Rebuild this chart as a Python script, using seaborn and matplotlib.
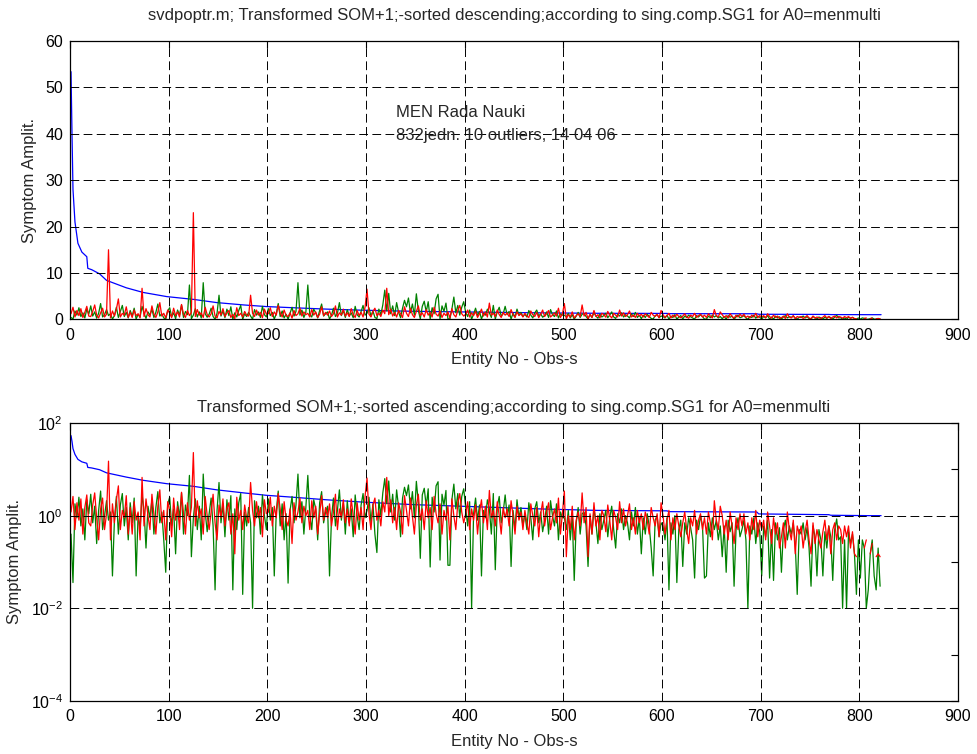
import numpy as np
import pandas as pd
import matplotlib
matplotlib.use("Agg")
import matplotlib.pyplot as plt
import matplotlib.ticker as mticker
import seaborn as sns

nan = np.nan

# Sorted singular-component amplitude (blue), given at its break points
blue_x = [1, 2, 3, 5, 8, 12, 17, 18, 22, 30, 37, 57, 74, 98, 125, 149, 176,
          199, 226, 260, 294, 320, 348, 399, 480, 534, 605, 607, 696, 698,
          769, 771, 811, 822]
blue_y = [53.4, 40.0, 28.0, 21.0, 16.4, 14.5, 13.5, 11.0, 10.7, 9.8, 8.4, 6.8,
          5.8, 4.9, 4.3, 3.6, 3.1, 2.75, 2.5, 2.2, 1.98, 1.85, 1.73, 1.59,
          1.39, 1.30, 1.27, 1.22, 1.20, 1.09, 1.05, 1.02, 1.00, 1.00]

# Entity numbers for the two symptom series (every second entity)
entity = list(range(1, 822, 2))

green_vals = [
    0.4, 0.036, 1.8, 0.9, 2.5, 0.6, 1.4, 0.3, 2.2, 1.1,
    2.9, 0.7, 1.6, 0.25, 1.3, 3.4, 0.5, 1.0, 2.1, 0.8,
    1.2, 0.05, 0.8, 2.6, 0.4, 1.7, 3.0, 0.6, 1.5, 0.3,
    1.9, 0.7, 2.4, 0.05, 1.1, 0.5, 2.8, 1.3, 0.2, 1.6,
    0.9, 2.2, 0.4, 1.5, 3.3, 0.7, 1.2, 0.3, 0.06, 1.8,
    2.5, 0.6, 1.4, 0.15, 2.0, 0.9, 3.1, 0.4, 1.7, 1.0,
    7.4, 0.13, 0.9, 2.3, 0.5, 1.6, 0.3, 7.9, 1.2, 0.45,
    1.1, 2.4, 0.6, 0.025, 1.3, 5.2, 0.7, 1.8, 0.35, 2.2,
    0.8, 2.7, 0.025, 1.4, 0.5, 1.9, 3.0, 0.02, 1.2, 0.6,
    1.5, 0.7, 0.01, 2.1, 0.9, 1.6, 0.4, 2.8, 1.0, 0.5,
    2.3, 0.8, 1.5, 0.05, 1.2, 3.4, 0.6, 1.8, 0.3, 1.1,
    0.035, 1.3, 2.6, 0.7, 1.7, 7.9, 0.9, 2.0, 0.4, 1.5,
    7.4, 1.0, 0.5, 2.2, 1.4, 0.3, 1.9, 3.3, 0.7, 1.2,
    1.6, 0.05, 0.9, 2.4, 0.6, 1.3, 3.6, 0.8, 1.9, 0.4,
    2.1, 0.7, 1.4, 0.35, 2.8, 1.0, 0.5, 1.7, 3.0, 0.9,
    1.3, 2.5, 0.7, 1.8, 0.4, 0.16, 2.2, 1.0, 3.1, 6.3,
    1.8, 5.6, 1.2, 2.9, 0.8, 3.6, 1.5, 0.35, 2.4, 4.1,
    2.7, 4.6, 1.4, 3.3, 0.9, 5.5, 1.9, 0.12, 2.8, 3.9,
    1.6, 3.8, 0.078, 2.5, 1.2, 4.4, 5.4, 0.11, 2.9, 1.7,
    3.5, 0.085, 0.085, 2.2, 4.8, 1.4, 3.0, 0.9, 2.6, 3.8,
    1.5, 0.6, 2.0, 0.01, 1.1, 2.4, 0.8, 1.7, 0.05, 1.3,
    0.9, 2.2, 1.4, 0.4, 3.0, 0.068, 1.6, 2.6, 0.7, 1.2,
    2.8, 1.0, 1.7, 0.08, 1.3, 0.5, 2.2, 0.9, 1.5, 0.6,
    1.1, 0.5, 1.9, 0.9, 0.3, 1.4, 2.0, 0.7, 1.2, 0.45,
    0.8, 1.6, 0.4, 2.1, 1.0, 0.6, 1.8, 0.3, 1.2, 0.9,
    0.9, 0.5, 1.3, 0.3, 1.0, 0.04, 0.7, 1.5, 0.4, 1.1,
    1.2, 0.6, 0.08, 1.0, 0.4, 1.4, 0.7, 0.25, 1.1, 0.5,
    0.8, 1.3, 0.35, 0.9, 1.6, 0.5, 0.2, 1.1, 0.7, 1.4,
    0.5, 1.0, 0.7, 0.3, 1.2, 0.6, 1.5, 0.4, 0.9, 0.15,
    0.9, 0.4, 1.1, 0.6, 0.2, 0.05, 0.8, 1.0, 0.35, 0.7,
    0.6, 0.3, 0.9, 0.025, 0.7, 0.4, 1.0, 0.036, 0.5, 0.8,
    0.08, 0.7, 0.4, 0.9, 0.55, 0.3, 0.045, 0.8, 0.5, 1.0,
    0.6, 0.045, 0.05, 0.7, 0.35, 0.9, 0.5, 0.8, 0.3, 0.6,
    0.13, 0.6, 0.06, 0.8, 0.45, 0.7, 0.03, 0.5, 0.9, 0.35,
    0.5, 0.8, 0.3, 0.01, 0.6, 0.4, 0.9, 0.25, 0.7, 0.45,
    0.05, 0.6, 0.35, 0.8, 0.045, 0.5, 0.04, 0.7, 0.3, 0.55,
    0.06, 0.5, 0.8, 0.3, 0.6, 0.4, 0.7, 0.25, 0.02, 0.5,
    0.4, 0.7, 0.3, 0.55, 0.2, 0.03, 0.6, 0.35, 0.05, 0.5,
    0.3, 0.05, 0.45, 0.2, 0.6, 0.35, 0.04, 0.5, 0.85, 0.3,
    0.35, 0.01, 0.3, 0.01, 0.45, 0.25, 0.4, 0.15, 0.02, 0.3,
    0.045, 0.3, 0.2, 0.01, 0.025, 0.15, 0.3, 0.05, 0.025, 0.2,
    0.03]

red_vals = [
    1.2, 2.6, 0.5, 1.9, 0.8, 2.3, 0.4, 1.5, 2.8, 0.7,
    0.6, 1.7, 3.1, 0.9, 0.3, 1.4, 2.4, 0.5, 1.1, 15.0,
    0.3, 1.8, 0.7, 2.2, 4.4, 0.5, 1.3, 0.9, 2.7, 0.4,
    1.5, 0.4, 2.0, 0.8, 1.2, 0.3, 6.7, 0.6, 2.3, 1.0,
    0.5, 2.9, 1.1, 0.4, 1.6, 3.6, 0.7, 1.3, 0.3, 2.0,
    1.3, 0.35, 2.4, 0.8, 1.6, 0.5, 3.2, 1.1, 0.4, 1.9,
    0.8, 1.5, 23.0, 0.6, 2.1, 0.9, 1.4, 0.4, 2.6, 1.0,
    0.5, 1.2, 2.9, 0.7, 0.3, 1.7, 0.9, 2.3, 0.6, 1.4,
    1.9, 0.4, 1.1, 0.15, 2.5, 0.8, 1.3, 0.5, 1.7, 0.9,
    0.7, 5.2, 1.3, 0.6, 2.0, 0.9, 1.5, 0.35, 2.2, 1.1,
    1.2, 2.5, 0.6, 1.6, 0.9, 3.0, 1.4, 0.5, 2.0, 0.8,
    0.6, 1.4, 0.25, 1.9, 0.8, 1.2, 2.4, 0.7, 1.6, 1.0,
    1.3, 0.5, 2.1, 0.9, 1.6, 0.4, 1.1, 2.7, 0.8, 1.5,
    0.9, 1.8, 0.6, 1.2, 2.9, 0.5, 1.4, 0.9, 2.2, 0.7,
    1.4, 0.6, 2.3, 1.0, 0.4, 1.9, 0.8, 1.5, 0.5, 2.6,
    6.5, 1.1, 0.5, 1.7, 2.4, 0.8, 1.3, 0.6, 2.0, 1.2,
    6.7, 1.0, 2.2, 0.7, 1.5, 0.5, 1.9, 1.2, 0.4, 2.7,
    1.3, 0.6, 2.4, 1.0, 0.4, 1.7, 2.9, 0.8, 1.4, 0.5,
    2.1, 0.9, 1.5, 0.5, 2.6, 1.1, 0.7, 1.8, 0.4, 1.3,
    0.8, 1.6, 0.3, 2.3, 1.0, 0.5, 1.9, 3.0, 1.2, 0.7,
    1.1, 2.0, 0.5, 1.4, 0.8, 1.7, 0.4, 1.2, 2.2, 0.7,
    1.6, 0.5, 3.5, 0.9, 1.3, 0.6, 2.0, 1.0, 0.4, 1.5,
    0.9, 1.4, 0.6, 2.1, 1.0, 0.4, 1.6, 0.8, 1.2, 0.5,
    1.3, 0.7, 0.4, 1.8, 1.0, 0.6, 1.5, 0.35, 1.1, 2.0,
    0.6, 1.2, 1.9, 0.5, 0.9, 1.4, 0.7, 2.4, 0.4, 1.1,
    3.4, 0.13, 1.0, 0.5, 1.6, 0.3, 0.8, 1.2, 0.6, 3.1,
    0.7, 1.5, 0.13, 1.1, 0.4, 1.9, 0.6, 1.0, 0.3, 1.3,
    1.0, 0.45, 1.7, 0.8, 0.3, 1.3, 0.9, 0.5, 2.0, 0.7,
    1.4, 0.6, 1.0, 1.8, 0.5, 0.9, 0.4, 1.3, 0.7, 1.1,
    0.5, 1.2, 0.8, 0.4, 1.5, 0.9, 0.6, 1.1, 0.35, 1.9,
    1.0, 0.4, 0.8, 1.3, 0.3, 0.9, 0.5, 1.1, 0.6, 0.35,
    0.7, 1.2, 0.5, 0.25, 0.9, 0.6, 1.3, 0.4, 0.8, 1.1,
    0.5, 0.9, 0.4, 1.2, 0.7, 0.3, 2.1, 0.8, 0.5, 1.6,
    1.0, 0.4, 0.8, 0.3, 1.2, 0.6, 0.25, 0.9, 0.5, 1.1,
    0.6, 1.1, 0.4, 0.7, 0.3, 0.9, 0.5, 1.3, 0.35, 0.8,
    0.5, 0.8, 0.3, 1.2, 0.6, 0.25, 0.9, 0.4, 0.7, 0.2,
    0.35, 0.7, 0.2, 1.2, 0.5, 0.3, 0.8, 0.15, 0.6, 0.4,
    0.6, 0.2, 0.45, 0.8, 0.3, 0.15, 0.7, 0.25, 0.5, 0.3,
    0.2, 0.45, 0.8, 0.3, 0.6, 0.15, 0.5, 0.7, 0.3, 0.6,
    0.5, 0.25, 0.6, 0.35, 0.6, 0.2, 0.45, 0.15, 0.13, nan,
    0.4, nan, 0.2, 0.3, nan, 0.15, 0.25, nan, 0.13, 0.15,
    0.13]

x_ticks = [0, 100, 200, 300, 400, 500, 600, 700, 800, 900]
lin_ticks = [0, 10, 20, 30, 40, 50, 60]
log_major = [1e-4, 1e-2, 1e0, 1e2]
log_minor = [1e-3, 1e-1, 1e1]
log_labels = [r"$10^{-4}$", r"$10^{-2}$", r"$10^{0}$", r"$10^{2}$"]

title_top = ("svdpoptr.m; Transformed SOM+1;-sorted descending;"
             "according to sing.comp.SG1 for A0=menmulti")
title_bottom = ("Transformed SOM+1;-sorted ascending;"
                "according to sing.comp.SG1 for A0=menmulti")
note_lines = ["MEN Rada Nauki", "832jedn. 10 outliers, 14 04 06"]

sns.set_style("white")
plt.rcParams["font.family"] = ["Liberation Sans", "DejaVu Sans"]
plt.rcParams["mathtext.fontset"] = "custom"
plt.rcParams["mathtext.rm"] = "Liberation Sans"
plt.rcParams["mathtext.it"] = "Liberation Sans"

blue_df = pd.DataFrame({"x": blue_x, "y": blue_y})
sym_df = pd.DataFrame({"x": entity, "green": green_vals, "red": red_vals})
sym_df["gseg"] = 0
sym_df["rseg"] = sym_df["red"].isna().cumsum()

fig = plt.figure(figsize=(9.78, 7.54), dpi=100)
ax1 = fig.add_axes([0.0716, 0.5765, 0.908, 0.369])
ax2 = fig.add_axes([0.0716, 0.0703, 0.908, 0.3687])

FS = 12
TFS = 11.5
grid_ls = (0, (9, 4.5))


def draw_series(ax):
    sns.lineplot(data=blue_df, x="x", y="y", ax=ax, color="#0000ff",
                 linewidth=0.9, estimator=None, sort=False)
    sns.lineplot(data=sym_df, x="x", y="green", units="gseg", ax=ax,
                 color="#008000", linewidth=0.9, estimator=None, sort=False)
    sns.lineplot(data=sym_df, x="x", y="red", units="rseg", ax=ax,
                 color="#ff0000", linewidth=0.9, estimator=None, sort=False)


def style_axes(ax, title, title_pad):
    ax.set_xlim(0, 900)
    ax.set_xticks(x_ticks)
    ax.set_xticklabels([str(t) for t in x_ticks])
    ax.tick_params(axis="both", which="both", direction="in", top=True,
                   right=True, length=5, width=0.8, labelsize=TFS, pad=5,
                   colors="black")
    ax.tick_params(axis="x", which="both", pad=6)
    for s in ax.spines.values():
        s.set_color("black")
        s.set_linewidth(0.9)
    ax.grid(True, which="major", color="black", linestyle=grid_ls,
            linewidth=0.7)
    ax.set_axisbelow(False)
    ax.set_title(title, fontsize=FS, pad=title_pad)
    ax.set_xlabel("Entity No - Obs-s", fontsize=FS, labelpad=7)
    ax.set_ylabel("Symptom Amplit.", fontsize=FS, labelpad=6)


# Upper panel: linear amplitude
draw_series(ax1)
ax1.set_ylim(0, 60)
ax1.set_yticks(lin_ticks)
ax1.set_yticklabels([str(t) for t in lin_ticks])
style_axes(ax1, title_top, 15)
ax1.text(330, 44.7, note_lines[0], fontsize=FS, va="center", ha="left")
ax1.text(330, 39.7, note_lines[1], fontsize=FS, va="center", ha="left")

# Lower panel: logarithmic amplitude
ax2.set_yscale("log", nonpositive="mask")
draw_series(ax2)
ax2.set_ylim(1e-4, 1e2)
ax2.yaxis.set_major_locator(mticker.FixedLocator(log_major))
ax2.yaxis.set_major_formatter(mticker.FixedFormatter(log_labels))
ax2.yaxis.set_minor_locator(mticker.FixedLocator(log_minor))
ax2.yaxis.set_minor_formatter(mticker.NullFormatter())
style_axes(ax2, title_bottom, 8)

fig.savefig("out.png", dpi=100, facecolor="white")
